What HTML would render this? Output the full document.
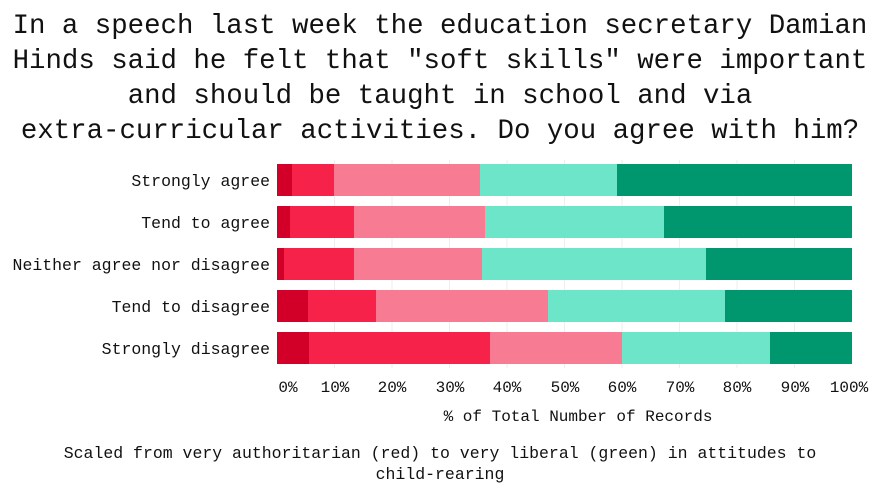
<!DOCTYPE html>
<html><head><meta charset="utf-8"><style>
body{margin:0;background:#fff}
text{font-family:"Liberation Mono","DejaVu Sans Mono",monospace;fill:#111}
</style></head><body>
<svg width="881" height="486" xmlns="http://www.w3.org/2000/svg">
<g font-size="27.4" text-anchor="middle">
<text x="440" y="33">In a speech last week the education secretary Damian</text>
<text x="440" y="68">Hinds said he felt that "soft skills" were important</text>
<text x="440" y="103">and should be taught in school and via</text>
<text x="440" y="138">extra-curricular activities. Do you agree with him?</text>
</g>
<g stroke="#eee" stroke-width="1">
<line x1="334.5" y1="160" x2="334.5" y2="368"/><line x1="392" y1="160" x2="392" y2="368"/><line x1="449.5" y1="160" x2="449.5" y2="368"/><line x1="507" y1="160" x2="507" y2="368"/><line x1="564.5" y1="160" x2="564.5" y2="368"/><line x1="622" y1="160" x2="622" y2="368"/><line x1="679.5" y1="160" x2="679.5" y2="368"/><line x1="737" y1="160" x2="737" y2="368"/><line x1="794.5" y1="160" x2="794.5" y2="368"/>
</g>
<g>
<rect x="277" y="164" width="15" height="32" fill="#d20028"/><rect x="292" y="164" width="42" height="32" fill="#f7224a"/><rect x="334" y="164" width="146" height="32" fill="#f77b92"/><rect x="480" y="164" width="137" height="32" fill="#6de5c8"/><rect x="617" y="164" width="235" height="32" fill="#00976f"/>
<rect x="277" y="206" width="13" height="32" fill="#d20028"/><rect x="290" y="206" width="64" height="32" fill="#f7224a"/><rect x="354" y="206" width="131" height="32" fill="#f77b92"/><rect x="485" y="206" width="179" height="32" fill="#6de5c8"/><rect x="664" y="206" width="188" height="32" fill="#00976f"/>
<rect x="277" y="248" width="7" height="32" fill="#d20028"/><rect x="284" y="248" width="70" height="32" fill="#f7224a"/><rect x="354" y="248" width="128" height="32" fill="#f77b92"/><rect x="482" y="248" width="224" height="32" fill="#6de5c8"/><rect x="706" y="248" width="146" height="32" fill="#00976f"/>
<rect x="277" y="290" width="31" height="32" fill="#d20028"/><rect x="308" y="290" width="68" height="32" fill="#f7224a"/><rect x="376" y="290" width="172" height="32" fill="#f77b92"/><rect x="548" y="290" width="177" height="32" fill="#6de5c8"/><rect x="725" y="290" width="127" height="32" fill="#00976f"/>
<rect x="277" y="332" width="32" height="32" fill="#d20028"/><rect x="309" y="332" width="181" height="32" fill="#f7224a"/><rect x="490" y="332" width="132" height="32" fill="#f77b92"/><rect x="622" y="332" width="148" height="32" fill="#6de5c8"/><rect x="770" y="332" width="82" height="32" fill="#00976f"/>
</g>
<g font-size="16.5" text-anchor="end">
<text x="270" y="186">Strongly agree</text>
<text x="270" y="228">Tend to agree</text>
<text x="270" y="270">Neither agree nor disagree</text>
<text x="270" y="312">Tend to disagree</text>
<text x="270" y="354">Strongly disagree</text>
</g>
<g font-size="16" text-anchor="middle">
<text x="288" y="392">0%</text><text x="335" y="392">10%</text><text x="392" y="392">20%</text><text x="450" y="392">30%</text><text x="507" y="392">40%</text><text x="565" y="392">50%</text><text x="622" y="392">60%</text><text x="680" y="392">70%</text><text x="737" y="392">80%</text><text x="795" y="392">90%</text><text x="849" y="392">100%</text>
<text x="578" y="421">% of Total Number of Records</text>
</g>
<g font-size="16.5" text-anchor="middle">
<text x="440" y="458">Scaled from very authoritarian (red) to very liberal (green) in attitudes to</text>
<text x="440" y="479">child-rearing</text>
</g>
</svg>
</body></html>
